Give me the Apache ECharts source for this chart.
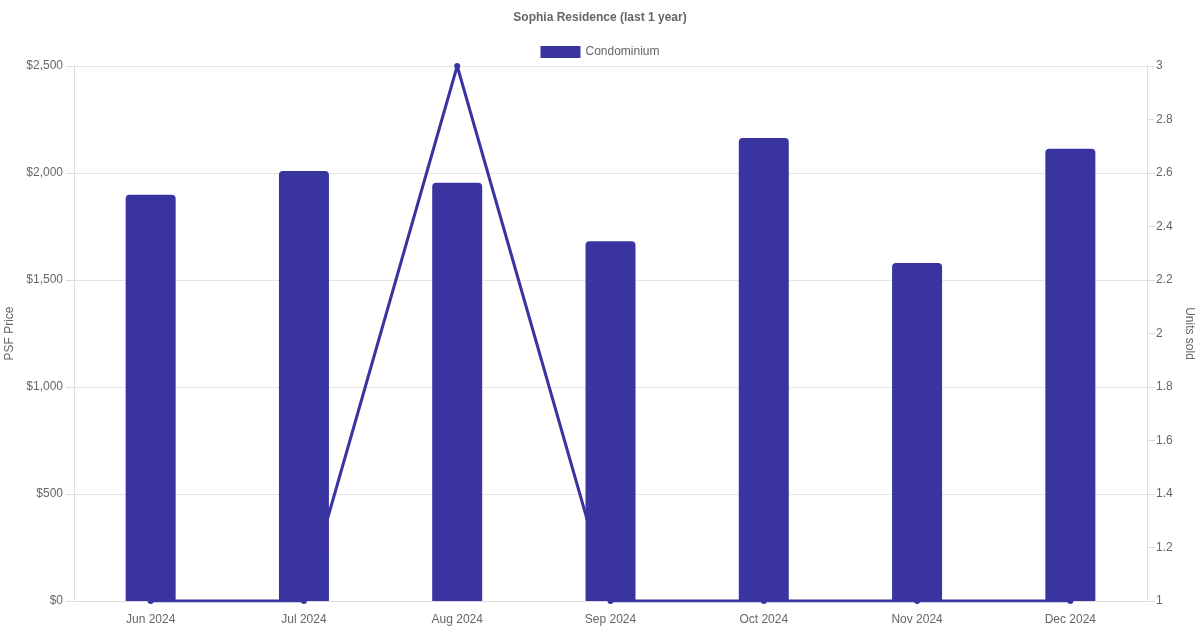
<!DOCTYPE html>
<html><head><meta charset="utf-8">
<script src="https://cdn.jsdelivr.net/npm/echarts@6/dist/echarts.min.js"></script>
<style>html,body{margin:0;padding:0;background:#fff}#c{width:1200px;height:630px}</style>
</head><body><div id="c"></div>
<script>
const categories = ['Jun 2024','Jul 2024','Aug 2024','Sep 2024','Oct 2024','Nov 2024','Dec 2024'];
const psfPrice = [1898, 2009, 1955, 1681, 2164, 1579, 2113];
const unitsSold = [1, 1, 3, 1, 1, 1, 1];
const leftTicks = {min: 0, max: 2500, interval: 500};
const rightTicks = {min: 1, max: 3, interval: 0.2};

const color = '#3a34a0';
const font = 'Liberation Sans, Arial, sans-serif';
const chart = echarts.init(document.getElementById('c'), null, {renderer: 'canvas'});
chart.setOption({
  animation: false,
  title: {text: 'Sophia Residence (last 1 year)', left: 'center', top: 7,
    textStyle: {fontFamily: font, fontSize: 12, fontWeight: 'bold', color: '#666'}},
  legend: {top: 41, left: 'center', itemWidth: 40, itemHeight: 12, itemGap: 7,
    textStyle: {fontFamily: font, fontSize: 12, color: '#666'},
    data: [{name: 'Condominium', icon: 'rect'}]},
  grid: {left: 74, right: 53, top: 66, bottom: 29, containLabel: false, outerBoundsMode: 'none'},
  xAxis: {type: 'category', data: categories, boundaryGap: true,
    axisLine: {lineStyle: {color: '#ddd'}}, axisTick: {show: false},
    axisLabel: {fontFamily: font, fontSize: 12, color: '#666', margin: 13},
    splitLine: {show: false}},
  yAxis: [
    {type: 'value', min: leftTicks.min, max: leftTicks.max, interval: leftTicks.interval,
      name: 'PSF Price', nameLocation: 'middle', nameGap: 57, nameRotate: 90,
      nameTextStyle: {fontFamily: font, fontSize: 12, color: '#666'},
      axisLine: {show: true, lineStyle: {color: '#ddd'}},
      axisTick: {show: true, length: 8, lineStyle: {color: '#ddd'}},
      axisLabel: {fontFamily: font, fontSize: 12, color: '#666', margin: 11,
        formatter: v => '$' + v.toLocaleString('en-US')},
      splitLine: {lineStyle: {color: '#e5e5e5'}}},
    {type: 'value', min: rightTicks.min, max: rightTicks.max, interval: rightTicks.interval,
      name: 'Units sold', nameLocation: 'middle', nameGap: 36, nameRotate: -90,
      nameTextStyle: {fontFamily: font, fontSize: 12, color: '#666'},
      axisLine: {show: true, lineStyle: {color: '#ddd'}},
      axisTick: {show: true, length: 8, lineStyle: {color: '#ddd'}},
      axisLabel: {fontFamily: font, fontSize: 12, color: '#666', margin: 9,
        formatter: v => String(Math.round(v * 10) / 10)},
      splitLine: {show: false}}
  ],
  series: [
    {name: 'Condominium', type: 'bar', yAxisIndex: 0, data: psfPrice, barWidth: 50,
      itemStyle: {color: color, borderRadius: [4, 4, 0, 0]}, z: 2},
    {name: 'Units', type: 'line', yAxisIndex: 1, data: unitsSold, symbol: 'circle', symbolSize: 6,
      lineStyle: {color: color, width: 3}, itemStyle: {color: color}, z: 3}
  ]
});
</script></body></html>
